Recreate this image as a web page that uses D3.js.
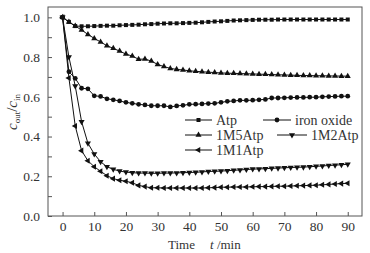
<!DOCTYPE html>
<html>
<head>
<meta charset="utf-8">
<script src="https://cdn.jsdelivr.net/npm/d3@7"></script>
<style>
  body { margin: 0; background: #fff; }
  text { font-family: "Liberation Serif", "Times New Roman", serif; }
</style>
</head>
<body>
<div id="chart"></div>
<script>
const times = d3.range(0, 92, 2);

const atp = [1.0, 0.977, 0.956, 0.955, 0.955, 0.956, 0.957, 0.958, 0.958, 0.96, 0.961, 0.962, 0.963, 0.965, 0.966, 0.968, 0.969, 0.97, 0.97, 0.971, 0.972, 0.973, 0.975, 0.977, 0.979, 0.98, 0.982, 0.984, 0.985, 0.986, 0.987, 0.988, 0.988, 0.988, 0.989, 0.989, 0.989, 0.989, 0.989, 0.989, 0.989, 0.989, 0.989, 0.989, 0.989, 0.989];
const ironOxide = [1.0, 0.726, 0.693, 0.643, 0.64, 0.605, 0.602, 0.59, 0.585, 0.579, 0.572, 0.567, 0.562, 0.559, 0.555, 0.555, 0.555, 0.549, 0.554, 0.557, 0.562, 0.563, 0.564, 0.566, 0.567, 0.572, 0.577, 0.579, 0.582, 0.582, 0.583, 0.585, 0.587, 0.594, 0.594, 0.595, 0.596, 0.597, 0.597, 0.598, 0.598, 0.6, 0.601, 0.602, 0.603, 0.603];
const m5Atp = [1.0, 0.977, 0.956, 0.936, 0.914, 0.894, 0.876, 0.857, 0.844, 0.83, 0.815, 0.805, 0.789, 0.79, 0.78, 0.763, 0.752, 0.743, 0.738, 0.735, 0.731, 0.728, 0.726, 0.724, 0.722, 0.72, 0.719, 0.718, 0.717, 0.716, 0.715, 0.714, 0.713, 0.712, 0.711, 0.71, 0.709, 0.708, 0.707, 0.707, 0.706, 0.706, 0.705, 0.705, 0.704, 0.704];
const m2Atp = [1.0, 0.80, 0.654, 0.475, 0.366, 0.312, 0.273, 0.248, 0.235, 0.226, 0.221, 0.218, 0.216, 0.216, 0.215, 0.215, 0.216, 0.216, 0.217, 0.218, 0.219, 0.22, 0.222, 0.224, 0.225, 0.226, 0.228, 0.23, 0.232, 0.234, 0.236, 0.237, 0.238, 0.24, 0.241, 0.243, 0.244, 0.245, 0.246, 0.248, 0.25, 0.252, 0.254, 0.256, 0.258, 0.26];
const m1Atp = [1.0, 0.695, 0.453, 0.329, 0.278, 0.248, 0.225, 0.203, 0.188, 0.18, 0.175, 0.167, 0.154, 0.148, 0.142, 0.142, 0.141, 0.141, 0.141, 0.141, 0.141, 0.141, 0.141, 0.142, 0.143, 0.145, 0.145, 0.146, 0.146, 0.146, 0.147, 0.148, 0.148, 0.149, 0.15, 0.15, 0.151, 0.152, 0.153, 0.154, 0.155, 0.157, 0.159, 0.161, 0.163, 0.165];

const seriesNames = ["Atp", "iron oxide", "1M5Atp", "1M2Atp", "1M1Atp"];
const seriesValues = [atp, ironOxide, m5Atp, m2Atp, m1Atp];
const xTicks = [0, 10, 20, 30, 40, 50, 60, 70, 80, 90];
const yTicks = [0.0, 0.2, 0.4, 0.6, 0.8, 1.0];
const yMinor = [0.1, 0.3, 0.5, 0.7, 0.9];

const width = 370, height = 253;
const margin = { top: 7, right: 8, bottom: 37, left: 48 };
const iw = width - margin.left - margin.right;
const ih = height - margin.top - margin.bottom;
const serif = "Liberation Serif";

const x = d3.scaleLinear().domain([-4.6, 94.5]).range([0, iw]);
const y = d3.scaleLinear().domain([0, 1.052]).range([ih, 0]);

const svg = d3.select("#chart")
    .append("svg")
    .attr("width", width)
    .attr("height", height);

const g = svg.append("g")
    .attr("transform", `translate(${margin.left},${margin.top})`);

// frame
g.append("rect")
    .attr("width", iw)
    .attr("height", ih)
    .attr("fill", "none")
    .attr("stroke", "#555")
    .attr("stroke-width", 1);

// axes, ticks pointing inside
g.append("g")
    .attr("transform", `translate(0,${ih})`)
    .call(d3.axisBottom(x).tickValues(xTicks).tickSize(-4).tickPadding(5).tickFormat(d3.format("d")));
g.append("g")
    .call(d3.axisLeft(y).tickValues(yTicks).tickSize(-4).tickPadding(8).tickFormat(d3.format(".1f")));
g.append("g")
    .call(d3.axisLeft(y).tickValues(yMinor).tickSize(-4).tickFormat(""));

g.selectAll(".domain").remove();
g.selectAll(".tick line").attr("stroke", "#555");
g.selectAll(".tick text")
    .attr("font-family", serif)
    .style("font-family", serif)
    .style("font-size", "13.5px")
    .attr("fill", "#333");

// marker shapes
const symbolFor = {
    "Atp": d3.symbol().type(d3.symbolSquare).size(16),
    "iron oxide": d3.symbol().type(d3.symbolCircle).size(18),
    "1M5Atp": d3.symbol().type(d3.symbolTriangle).size(16),
    "1M2Atp": d3.symbol().type(d3.symbolTriangle).size(16),
    "1M1Atp": d3.symbol().type(d3.symbolTriangle).size(16)
};
const rotateFor = { "Atp": 0, "iron oxide": 0, "1M5Atp": 0, "1M2Atp": 180, "1M1Atp": -90 };

const line = d3.line()
    .x(d => x(d.t))
    .y(d => y(d.v));

seriesNames.forEach((name, i) => {
    const pts = times.map((t, j) => ({ t, v: seriesValues[i][j] }));
    g.append("path")
        .datum(pts)
        .attr("fill", "none")
        .attr("stroke", "#111")
        .attr("stroke-width", 1)
        .attr("d", line);
    g.selectAll(".m" + i)
        .data(pts)
        .enter()
        .append("path")
        .attr("class", "m" + i)
        .attr("d", symbolFor[name]())
        .attr("transform", d => `translate(${x(d.t)},${y(d.v)}) rotate(${rotateFor[name]})`)
        .attr("fill", "#111");
});

// legend
const legendItems = [
    { name: "Atp", lx: 185, ly: 120, len: 27 },
    { name: "iron oxide", lx: 263, ly: 120, len: 28 },
    { name: "1M5Atp", lx: 185, ly: 135, len: 27 },
    { name: "1M2Atp", lx: 277, ly: 135, len: 30 },
    { name: "1M1Atp", lx: 185, ly: 150, len: 27 }
];
const leg = svg.append("g");
legendItems.forEach(it => {
    const row = leg.append("g").attr("transform", `translate(${it.lx},${it.ly})`);
    row.append("line")
        .attr("x1", 0).attr("x2", it.len)
        .attr("y1", 0).attr("y2", 0)
        .attr("stroke", "#111");
    row.append("path")
        .attr("d", symbolFor[it.name]())
        .attr("transform", `translate(${it.len / 2},0) rotate(${rotateFor[it.name]})`)
        .attr("fill", "#111");
    row.append("text")
        .attr("x", it.len + 4)
        .attr("y", 4.5)
        .style("font-size", "14px")
        .attr("fill", "#333")
        .text(it.name);
});

// axis titles
svg.append("text")
    .attr("x", 168)
    .attr("y", 249)
    .style("font-size", "13px")
    .attr("fill", "#333")
    .text("Time");
svg.append("text")
    .attr("x", 210)
    .attr("y", 249)
    .style("font-size", "13px")
    .attr("fill", "#333")
    .html('<tspan font-style="italic">t</tspan> /min');

const yl = svg.append("text")
    .attr("transform", "translate(17,112) rotate(-90)")
    .attr("text-anchor", "middle")
    .style("font-size", "15px")
    .attr("fill", "#333");
yl.append("tspan").attr("font-style", "italic").text("c");
yl.append("tspan").attr("font-size", "9px").attr("dy", 3).text("out");
yl.append("tspan").attr("dy", -3).text("/");
yl.append("tspan").attr("font-style", "italic").text("c");
yl.append("tspan").attr("font-size", "9px").attr("dy", 3).text("in");
</script>
</body>
</html>
